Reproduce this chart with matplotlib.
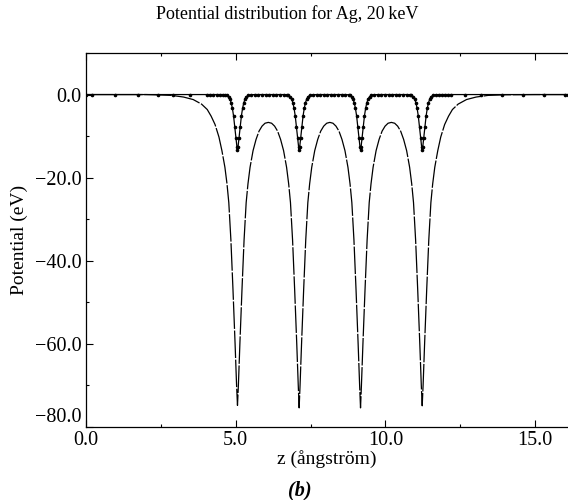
"""Potential distribution for Ag at 20 keV."""

import matplotlib
matplotlib.use("Agg")
import matplotlib.pyplot as plt
from matplotlib.ticker import MultipleLocator, FuncFormatter

# total (solid) potential
z_total = [0.0, 1.0, 2.0, 2.26, 2.86, 3.26, 3.58, 3.86, 4.05, 4.18, 4.31, 4.44, 4.54, 4.64,
           4.71, 4.77, 4.84, 4.91, 4.98, 5.03, 5.06,
           5.09, 5.14, 5.21, 5.28, 5.35, 5.41, 5.48, 5.58, 5.68, 5.78, 5.88, 5.98, 6.09,
           6.20, 6.30, 6.40, 6.50, 6.60, 6.70, 6.77, 6.83, 6.90, 6.97, 7.04, 7.09, 7.12,
           7.15, 7.20, 7.27, 7.34, 7.41, 7.47, 7.54, 7.64, 7.74, 7.84, 7.94, 8.04, 8.145,
           8.25, 8.35, 8.45, 8.55, 8.65, 8.75, 8.82, 8.88, 8.95, 9.02, 9.09, 9.14, 9.17,
           9.20, 9.25, 9.32, 9.39, 9.46, 9.52, 9.59, 9.69, 9.79, 9.89, 9.99, 10.09, 10.20,
           10.31, 10.41, 10.51, 10.61, 10.71, 10.81, 10.88, 10.94, 11.01, 11.08, 11.15, 11.20, 11.23,
           11.26, 11.31, 11.38, 11.45, 11.52, 11.58, 11.65, 11.75, 11.85, 11.98, 12.11, 12.24,
           12.43, 12.71, 13.03, 13.43, 14.03, 15.0, 16.1]
v_total = [0.0, 0.0, 0.0, -0.05, -0.2, -0.6, -1.2, -2.3, -3.6, -5.2, -7.2, -10.2, -13.5, -17.5,
           -21.5, -26.0, -35.0, -47.0, -60.0, -70.0, -74.8,
           -70.0, -60.0, -47.0, -35.0, -26.0, -21.5, -17.5, -13.5, -10.8, -8.8, -7.6, -6.9, -6.7,
           -6.9, -7.6, -8.8, -10.8, -13.5, -17.5, -21.5, -26.0, -35.0, -47.0, -60.0, -70.0, -75.4,
           -70.0, -60.0, -47.0, -35.0, -26.0, -21.5, -17.5, -13.5, -10.8, -8.8, -7.6, -6.9, -6.7,
           -6.9, -7.6, -8.8, -10.8, -13.5, -17.5, -21.5, -26.0, -35.0, -47.0, -60.0, -70.0, -75.4,
           -70.0, -60.0, -47.0, -35.0, -26.0, -21.5, -17.5, -13.5, -10.8, -8.8, -7.6, -6.9, -6.7,
           -6.9, -7.6, -8.8, -10.8, -13.5, -17.5, -21.5, -26.0, -35.0, -47.0, -60.0, -70.0, -74.9,
           -70.0, -60.0, -47.0, -35.0, -26.0, -21.5, -17.5, -13.5, -10.2, -7.2, -5.2, -3.6,
           -2.3, -1.2, -0.6, -0.2, -0.05, 0.0, 0.0]

# dotted curve (shallow wells)
z_dots = [0.0, 0.2, 0.97, 1.74, 2.4, 2.9, 3.48, 4.05, 4.15, 4.25, 4.38, 4.48, 4.58, 4.65,
          4.70, 4.76, 4.81, 4.85, 4.89, 4.93, 4.97, 5.01, 5.04, 5.06,
          5.08, 5.11, 5.15, 5.19, 5.23, 5.27, 5.31, 5.36, 5.42, 5.52,
          5.64, 5.76, 5.88, 6.0, 6.12, 6.24, 6.36, 6.48, 6.60, 6.72,
          6.76, 6.82, 6.87, 6.91, 6.95, 6.99, 7.03, 7.07, 7.10, 7.12,
          7.14, 7.17, 7.21, 7.25, 7.29, 7.33, 7.37, 7.42, 7.48, 7.58,
          7.70, 7.82, 7.94, 8.06, 8.18, 8.30, 8.42, 8.54, 8.66, 8.77,
          8.81, 8.87, 8.92, 8.96, 9.00, 9.04, 9.08, 9.12, 9.15, 9.17,
          9.19, 9.22, 9.26, 9.30, 9.34, 9.38, 9.42, 9.47, 9.53, 9.63,
          9.75, 9.87, 9.99, 10.11, 10.23, 10.35, 10.47, 10.59, 10.71, 10.83,
          10.87, 10.93, 10.98, 11.02, 11.06, 11.10, 11.14, 11.18, 11.21, 11.23,
          11.25, 11.28, 11.32, 11.36, 11.40, 11.44, 11.48, 11.53, 11.59, 11.69,
          11.78, 11.88, 11.98, 12.08, 12.2, 12.65, 13.2, 13.9, 14.6, 15.3, 16.0, 16.1]
v_dots = [0.0, 0.0, 0.0, 0.0, 0.0, 0.0, 0.0, 0.0, 0.0, 0.0, 0.0, 0.0, 0.0, -0.1,
          -0.2, -0.5, -1.1, -2.0, -3.3, -5.2, -7.8, -10.5, -12.5, -13.3,
          -12.5, -10.5, -7.8, -5.2, -3.3, -2.0, -1.1, -0.5, -0.2, -0.05,
          0.0, 0.0, 0.0, 0.0, 0.0, 0.0, 0.0, 0.0, 0.0, -0.05,
          -0.2, -0.5, -1.1, -2.0, -3.3, -5.2, -7.8, -10.5, -12.5, -13.3,
          -12.5, -10.5, -7.8, -5.2, -3.3, -2.0, -1.1, -0.5, -0.2, -0.05,
          0.0, 0.0, 0.0, 0.0, 0.0, 0.0, 0.0, 0.0, 0.0, -0.05,
          -0.2, -0.5, -1.1, -2.0, -3.3, -5.2, -7.8, -10.5, -12.5, -13.3,
          -12.5, -10.5, -7.8, -5.2, -3.3, -2.0, -1.1, -0.5, -0.2, -0.05,
          0.0, 0.0, 0.0, 0.0, 0.0, 0.0, 0.0, 0.0, 0.0, -0.05,
          -0.2, -0.5, -1.1, -2.0, -3.3, -5.2, -7.8, -10.5, -12.5, -13.3,
          -12.5, -10.5, -7.8, -5.2, -3.3, -2.0, -1.1, -0.5, -0.2, -0.05,
          0.0, 0.0, 0.0, 0.0, 0.0, 0.0, 0.0, 0.0, 0.0, 0.0, 0.0, 0.0]

plt.rcParams["font.family"] = ["Liberation Serif", "DejaVu Serif"]

fig = plt.figure(figsize=(5.68, 5.0), dpi=100)
ax = fig.add_axes([0.1514, 0.146, 0.8486, 0.748])

ax.plot(z_total, v_total, color="black", lw=0.9, linestyle=(0, (22, 1.3)))
ax.plot(z_dots, v_dots, color="black", lw=0.9, marker=".", markersize=3.2)

ax.set_xlim(0, 16.1)
ax.set_ylim(-80, 10)
ax.xaxis.set_major_locator(MultipleLocator(5))
ax.xaxis.set_minor_locator(MultipleLocator(2.5))
ax.yaxis.set_major_locator(MultipleLocator(20))
ax.yaxis.set_minor_locator(MultipleLocator(10))
fmt = FuncFormatter(lambda v, pos: f"{v:.1f}".replace("-", "\u2212"))
ax.xaxis.set_major_formatter(fmt)
ax.yaxis.set_major_formatter(fmt)
ax.tick_params(which="both", direction="in", top=True, right=False, labelsize=14.5, width=0.8)
ax.tick_params(which="major", length=5)
ax.tick_params(which="minor", length=2.5)
ax.tick_params(axis="x", pad=3)
ax.tick_params(axis="y", pad=3)
ax.spines["right"].set_visible(False)
for s in ["left", "top", "bottom"]:
    ax.spines[s].set_linewidth(0.9)

ax.set_xlabel("z (ångström)", fontsize=14, labelpad=0)
ax.set_ylabel("Potential (eV)", fontsize=14, labelpad=5)

fig.text(0.505, 0.972, "Potential distribution for Ag, 20\u2009keV", ha="center", va="center",
         fontsize=13)
fig.text(0.528, 0.02, "(b)", ha="center", va="center", fontsize=14.5,
         fontweight="bold", style="italic")

# the bottom y label sits above its tick, as in the print
fig.canvas.draw()
for lab in ax.get_yticklabels():
    if lab.get_text().startswith("\u221280"):
        lab.set_verticalalignment("bottom")

fig.savefig("out.png", dpi=100)
